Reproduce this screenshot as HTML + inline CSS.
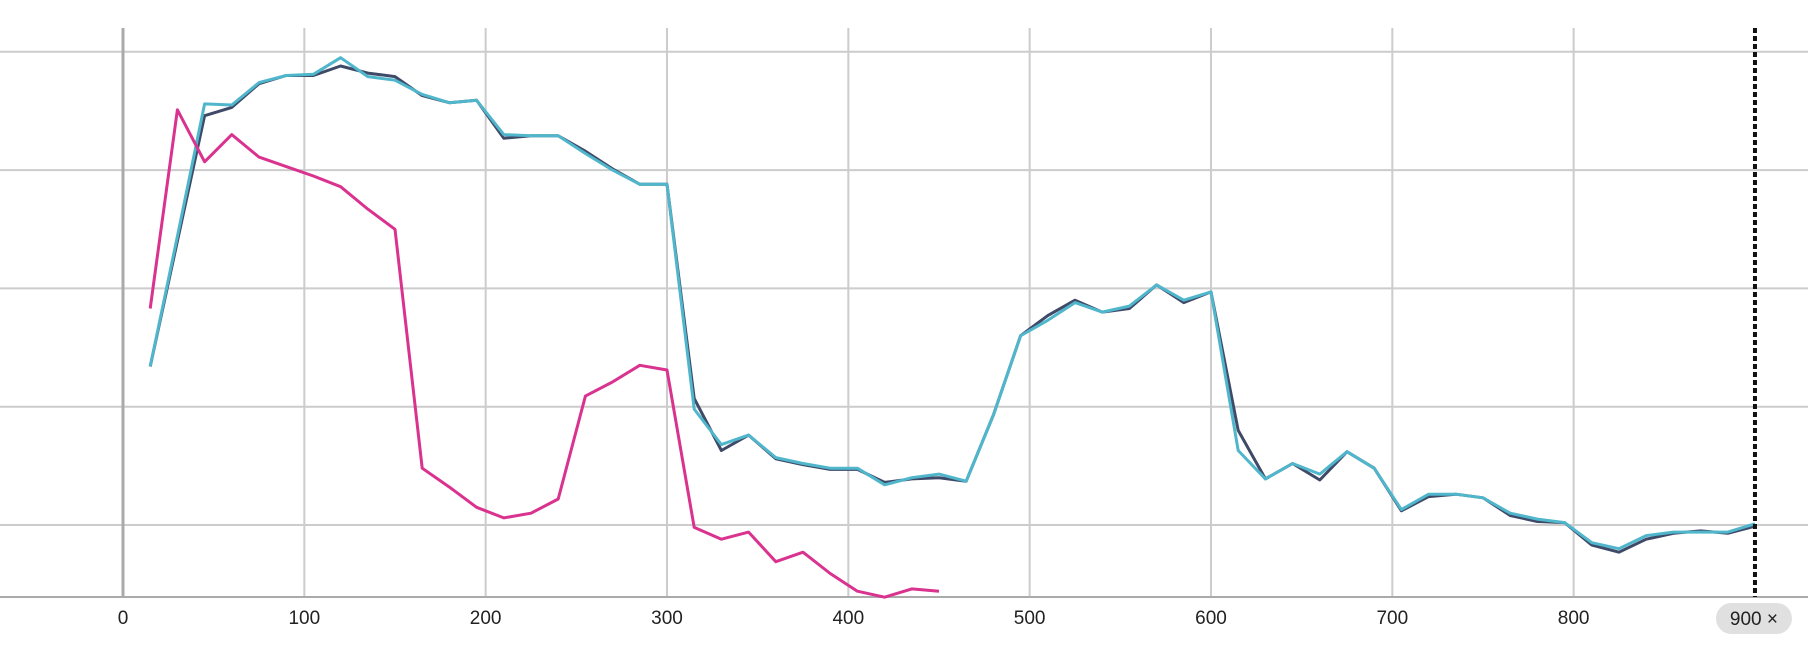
<!DOCTYPE html>
<html><head><meta charset="utf-8"><style>
html,body{margin:0;padding:0;background:#fff;}
svg{display:block;font-family:"Liberation Sans",Roboto,sans-serif;}
</style></head><body>
<svg id="chart" width="1808" height="650" viewBox="0 0 1808 650" xmlns="http://www.w3.org/2000/svg">
<g id="grid"></g>
<g id="series"></g>
<g id="xlabels"></g>
</svg>
<script>
const xs = [15,30,45,60,75,90,105,120,135,150,165,180,195,210,225,240,255,270,285,300,315,330,345,360,375,390,405,420,435,450,465,480,495,510,525,540,555,570,585,600,615,630,645,660,675,690,705,720,735,750,765,780,795,810,825,840,855,870,885,900];
const cyanVals = [2.34,3.44,4.56,4.55,4.74,4.80,4.81,4.95,4.79,4.76,4.64,4.57,4.59,4.30,4.29,4.29,4.14,4.00,3.88,3.88,1.98,1.68,1.76,1.57,1.52,1.48,1.48,1.34,1.40,1.43,1.37,1.93,2.60,2.73,2.88,2.80,2.85,3.03,2.90,2.97,1.63,1.39,1.52,1.43,1.62,1.48,1.13,1.26,1.26,1.23,1.10,1.05,1.02,0.85,0.80,0.91,0.94,0.94,0.94,1.01];
const darkVals = [2.34,3.40,4.46,4.53,4.73,4.80,4.80,4.88,4.82,4.79,4.63,4.57,4.59,4.27,4.29,4.29,4.16,4.01,3.88,3.88,2.07,1.63,1.76,1.56,1.51,1.47,1.47,1.36,1.39,1.40,1.37,1.93,2.60,2.77,2.90,2.80,2.83,3.03,2.88,2.97,1.80,1.39,1.52,1.38,1.62,1.48,1.12,1.24,1.26,1.23,1.08,1.03,1.02,0.83,0.77,0.88,0.93,0.95,0.93,0.99];
const magXs = [15,30,45,60,75,90,105,120,135,150,165,180,195,210,225,240,255,270,285,300,315,330,345,360,375,390,405,420,435,450];
const magVals = [2.83,4.51,4.07,4.30,4.11,4.03,3.95,3.86,3.67,3.50,1.48,1.32,1.15,1.06,1.10,1.22,2.09,2.21,2.35,2.31,0.98,0.88,0.94,0.69,0.77,0.59,0.44,0.39,0.46,0.44];
const xTicks = [0,100,200,300,400,500,600,700,800];
const yGrid = [1,2,3,4,5];
const markerX = 900;

const NS='http://www.w3.org/2000/svg';
function X(v){return 123 + v*1.8133;}
function Y(v){return 525 - (v-1)*118.3;}
function mk(tag,attrs,parent){const e=document.createElementNS(NS,tag);for(const k in attrs)e.setAttribute(k,attrs[k]);parent.appendChild(e);return e;}
const grid=document.getElementById('grid'), ser=document.getElementById('series'), xl=document.getElementById('xlabels');
yGrid.forEach(v=>{
  const l=mk('line',{x1:0,x2:1808,y1:Y(v),y2:Y(v),stroke:'#cccccc','stroke-width':2},grid);
  
  
});
xTicks.forEach(v=>{
  const l=mk('line',{x1:X(v),x2:X(v),y1:28,y2:597,stroke:v===0?'#aaaaaa':'#cccccc','stroke-width':v===0?3:2},grid);
  
  
  const t=mk('text',{x:X(v),y:624,'text-anchor':'middle','font-size':19,fill:'#222'},xl);
  t.textContent=v;
  
  
});
const base=mk('line',{x1:0,x2:1808,y1:597,y2:597,stroke:'#aaaaaa','stroke-width':2},grid);


function path(xa,ya,color,name){
  const d=xa.map((x,i)=>(i?'L':'M')+X(x).toFixed(1)+' '+Y(ya[i]).toFixed(1)).join(' ');
  const p=mk('path',{d:d,fill:'none',stroke:color,'stroke-width':3,'stroke-linejoin':'round'},ser);
  
  
}
path(xs,darkVals,'#3f4a68','series-dark');
path(xs,cyanVals,'#4fb6cc','series-cyan');
path(magXs,magVals,'#d9328f','series-magenta');
const ml=mk('line',{x1:X(markerX),x2:X(markerX),y1:28,y2:597,stroke:'#111','stroke-width':4,'stroke-dasharray':'5 3'},ser);


const badge=mk('g',{},xl);


mk('rect',{x:X(markerX)-39,y:603,width:76,height:31,rx:15.5,fill:'#e0e0e0'},badge);
const bt=mk('text',{x:X(markerX)-1,y:625,'text-anchor':'middle','font-size':19,fill:'#222'},badge);
bt.textContent=markerX+' \u00d7';


</script>
</body></html>
